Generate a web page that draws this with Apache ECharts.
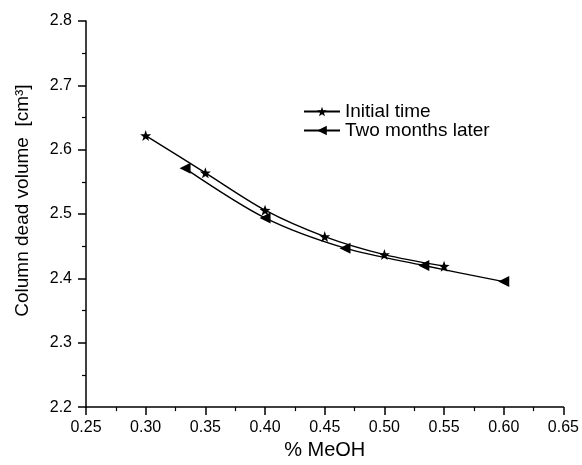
<!DOCTYPE html>
<html>
<head>
<meta charset="utf-8">
<script src="https://cdn.jsdelivr.net/npm/echarts@6/dist/echarts.min.js"></script>
<style>
  html, body { margin: 0; padding: 0; background: #fff; }
  #main { width: 582px; height: 465px; }
</style>
</head>
<body>
<div id="main"></div>
<script>
  // data
  var initialX = [0.30, 0.35, 0.40, 0.45, 0.50, 0.55];
  var initialY = [2.622, 2.564, 2.506, 2.465, 2.437, 2.419];
  var laterX = [0.333, 0.40, 0.467, 0.533, 0.60];
  var laterY = [2.571, 2.494, 2.447, 2.420, 2.395];

  var starPath = 'path://M0,-10L2.35,-3.24L9.51,-3.09L3.8,1.24L5.88,8.09L0,4L-5.88,8.09L-3.8,1.24L-9.51,-3.09L-2.35,-3.24Z';
  var font = 'Liberation Sans, Arial, sans-serif';

  function pairs(xs, ys) {
    var out = [];
    for (var i = 0; i < xs.length; i++) {
      out.push([xs[i], ys[i]]);
    }
    return out;
  }

  var chart = echarts.init(document.getElementById('main'));

  var option = {
    backgroundColor: '#fff',
    animation: false,
    grid: { left: 86, right: 15, top: 21, bottom: 49 },
    legend: {
      left: 298,
      top: 97,
      orient: 'vertical',
      itemWidth: 36,
      itemHeight: 12,
      itemGap: 0,
      textStyle: { color: '#000', fontSize: 19, fontFamily: font },
      data: ['Initial time', 'Two months later']
    },
    xAxis: {
      type: 'value',
      min: 0.25,
      max: 0.65,
      interval: 0.05,
      name: '% MeOH',
      nameLocation: 'middle',
      nameGap: 27,
      nameTextStyle: { color: '#000', fontSize: 20, fontFamily: font, verticalAlign: 'top' },
      axisLine: { lineStyle: { color: '#000', width: 1.5 } },
      axisTick: { inside: false, length: 8, lineStyle: { color: '#000', width: 1.5 } },
      minorTick: { show: true, splitNumber: 2, length: 4, lineStyle: { color: '#000', width: 1.2 } },
      axisLabel: {
        color: '#000', fontSize: 16, fontFamily: font, margin: 12,
        formatter: function (v) { return v.toFixed(2); }
      },
      splitLine: { show: false }
    },
    yAxis: {
      type: 'value',
      min: 2.2,
      max: 2.8,
      interval: 0.1,
      name: 'Column dead volume  [cm\u00B3]',
      nameLocation: 'middle',
      nameGap: 54,
      nameTextStyle: { color: '#000', fontSize: 19, fontFamily: font, padding: [0, 0, 0, 27] },
      axisLine: { show: true, lineStyle: { color: '#000', width: 1.5 } },
      axisTick: { show: true, inside: false, length: 8, lineStyle: { color: '#000', width: 1.5 } },
      minorTick: { show: true, splitNumber: 2, length: 4, lineStyle: { color: '#000', width: 1.2 } },
      axisLabel: {
        color: '#000', fontSize: 16, fontFamily: font, margin: 14,
        formatter: function (v) { return v.toFixed(1); }
      },
      splitLine: { show: false }
    },
    series: [
      {
        name: 'Initial time',
        type: 'line',
        smooth: 0.3,
        data: pairs(initialX, initialY),
        symbol: starPath,
        symbolSize: 11,
        itemStyle: { color: '#000' },
        lineStyle: { color: '#000', width: 1.4 }
      },
      {
        name: 'Two months later',
        type: 'line',
        smooth: 0.3,
        data: pairs(laterX, laterY),
        symbol: 'triangle',
        symbolRotate: 90,
        symbolSize: 11,
        itemStyle: { color: '#000' },
        lineStyle: { color: '#000', width: 1.4 }
      }
    ]
  };

  chart.setOption(option);
</script>
</body>
</html>
